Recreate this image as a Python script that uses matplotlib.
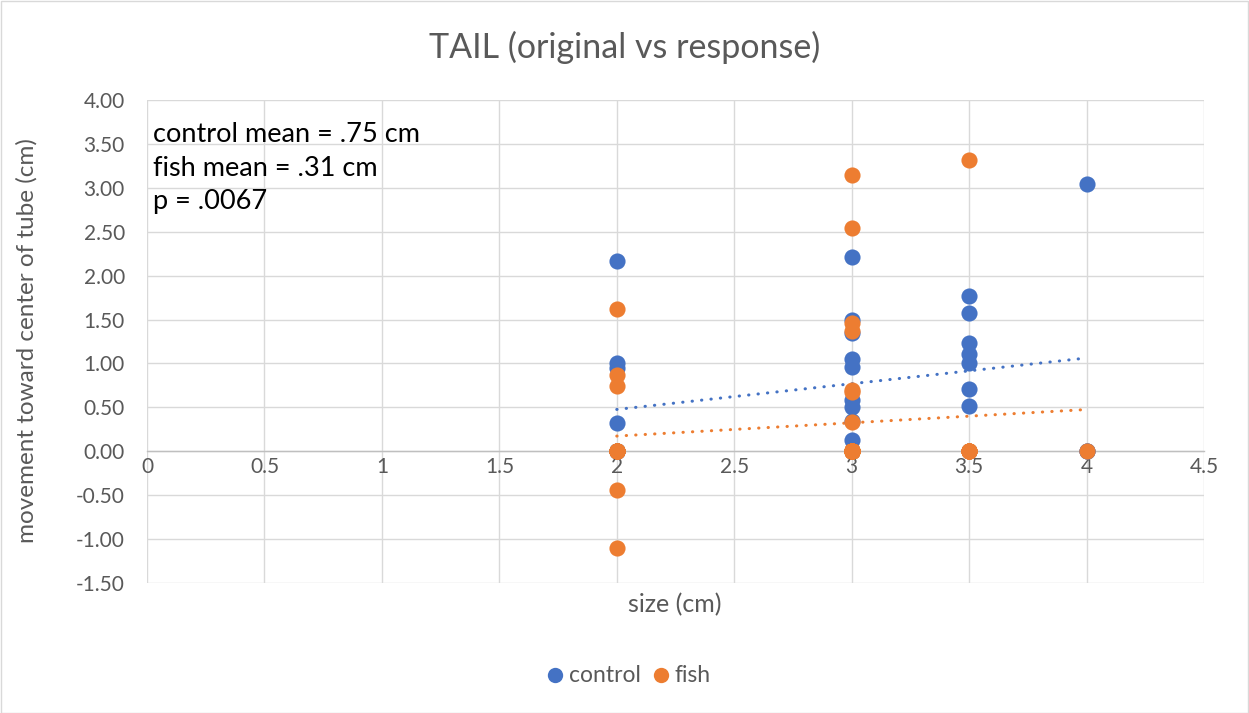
import matplotlib
matplotlib.use("Agg")
import matplotlib.pyplot as plt
import matplotlib.patches as patches
import numpy as np

# ---- data ----
control_x = [2, 2, 2, 2, 2, 2, 2, 2, 2,
             3, 3, 3, 3, 3, 3, 3, 3, 3, 3, 3, 3,
             3.5, 3.5, 3.5, 3.5, 3.5, 3.5, 3.5, 3.5,
             4, 4, 4]
control_y = [2.17, 1.00, 0.95, 0.32, 0.00, 0.00, 0.00, 0.00, 0.00,
             2.21, 1.50, 1.35, 1.05, 0.96, 0.58, 0.50, 0.35, 0.13, 0.00, 0.00, 0.00,
             1.77, 1.58, 1.23, 1.11, 1.00, 0.71, 0.52, 0.00,
             3.04, 0.00, 0.00]

fish_x = [2, 2, 2, 2, 2, 2, 2, 2, 2, 2, 2,
          3, 3, 3, 3, 3, 3, 3, 3, 3, 3, 3, 3, 3, 3, 3, 3, 3, 3, 3, 3, 3, 3, 3, 3, 3, 3, 3, 3, 3, 3, 3,
          3.5, 3.5, 3.5, 3.5, 3.5, 3.5, 3.5,
          4]
fish_y = [1.62, 0.87, 0.74, -0.44, -1.10, 0.00, 0.00, 0.00, 0.00, 0.00, 0.00,
          3.15, 2.54, 1.46, 1.37, 0.70, 0.67, 0.33,
          0.00, 0.00, 0.00, 0.00, 0.00, 0.00, 0.00, 0.00, 0.00, 0.00, 0.00, 0.00,
          0.00, 0.00, 0.00, 0.00, 0.00, 0.00, 0.00, 0.00, 0.00, 0.00, 0.00, 0.00,
          3.32, 0.00, 0.00, 0.00, 0.00, 0.00, 0.00,
          0.00]

series_names = ["control", "fish"]
series_colors = ["#4472C4", "#ED7D31"]
title = "TAIL (original vs response)"
x_label = "size (cm)"
y_label = "movement toward center of tube (cm)"
annotation_lines = ["control mean = .75 cm", "fish mean = .31 cm", "p = .0067"]
x_ticks = [0, 0.5, 1, 1.5, 2, 2.5, 3, 3.5, 4, 4.5]
y_ticks = [-1.5, -1.0, -0.5, 0.0, 0.5, 1.0, 1.5, 2.0, 2.5, 3.0, 3.5, 4.0]

# ---- figure ----
FONT = ["Lato", "DejaVu Sans"]
plt.rcParams["font.family"] = FONT
W, H = 1249, 713
fig = plt.figure(figsize=(W / 100, H / 100), dpi=100)
fig.patch.set_facecolor("white")
fig.add_artist(patches.Rectangle((0.5 / W, 0.5 / H), 1 - 1.5 / W, 1 - 1.5 / H,
                                 transform=fig.transFigure, fill=False,
                                 edgecolor="#d9d9d9", linewidth=1))

L, R, T, B = 147, 1204, 100, 583
ax = fig.add_axes([L / W, 1 - B / H, (R - L) / W, (B - T) / H])
ax.set_xlim(0, 4.5)
ax.set_ylim(-1.5, 4.0)
ax.set_xticks(x_ticks)
ax.set_yticks(y_ticks)
ax.set_xticklabels([("%g" % v) for v in x_ticks])
ax.set_yticklabels([("%.2f" % v) for v in y_ticks])
ax.grid(True, color="#d9d9d9", linewidth=1)
ax.set_axisbelow(True)
for s in ["top", "right", "left"]:
    ax.spines[s].set_visible(False)
ax.spines["bottom"].set_position(("data", 0))
ax.spines["bottom"].set_color("#bfbfbf")
ax.spines["bottom"].set_linewidth(1)
ax.spines["bottom"].set_zorder(1.5)
ax.tick_params(axis="both", length=0, labelsize=15, labelcolor="#595959")
ax.tick_params(axis="x", pad=4)
ax.tick_params(axis="y", pad=16)

# trend lines
for xs, ys, c in [(control_x, control_y, series_colors[0]), (fish_x, fish_y, series_colors[1])]:
    k, b0 = np.polyfit(xs, ys, 1)
    xx = np.array([min(xs), max(xs)])
    ax.plot(xx, k * xx + b0, color=c, linewidth=2.2, linestyle=(0, (0.1, 3.0)),
            dash_capstyle="round", zorder=2)

ax.scatter(control_x, control_y, s=135, color=series_colors[0], linewidths=0,
           zorder=3, label=series_names[0])
ax.scatter(fish_x, fish_y, s=135, color=series_colors[1], linewidths=0,
           zorder=4, label=series_names[1])

# annotations
for i, line in enumerate(annotation_lines):
    ax.text(6 / (R - L), (B - (134 + 34 * i)) / (B - T), line, transform=ax.transAxes,
            fontsize=19.5, color="black", va="center", ha="left")

fig.text(625 / W, 1 - 47 / H, title, fontsize=24.5,
         color="#595959", ha="center", va="center")
fig.text(675 / W, 1 - 605 / H, x_label, fontsize=18, color="#595959",
         ha="center", va="center")
fig.text(27 / W, 1 - 341 / H, y_label, fontsize=17.5, color="#595959",
         ha="center", va="center", rotation=90)

leg = fig.legend(loc="center", bbox_to_anchor=(629 / W, 1 - 675 / H), ncol=2,
                 frameon=False, fontsize=16.5, handlelength=0.7, handletextpad=0.25,
                 columnspacing=0.55, markerscale=0.95, borderaxespad=0)
for t in leg.get_texts():
    t.set_color("#595959")

fig.savefig("out.png", dpi=100)
